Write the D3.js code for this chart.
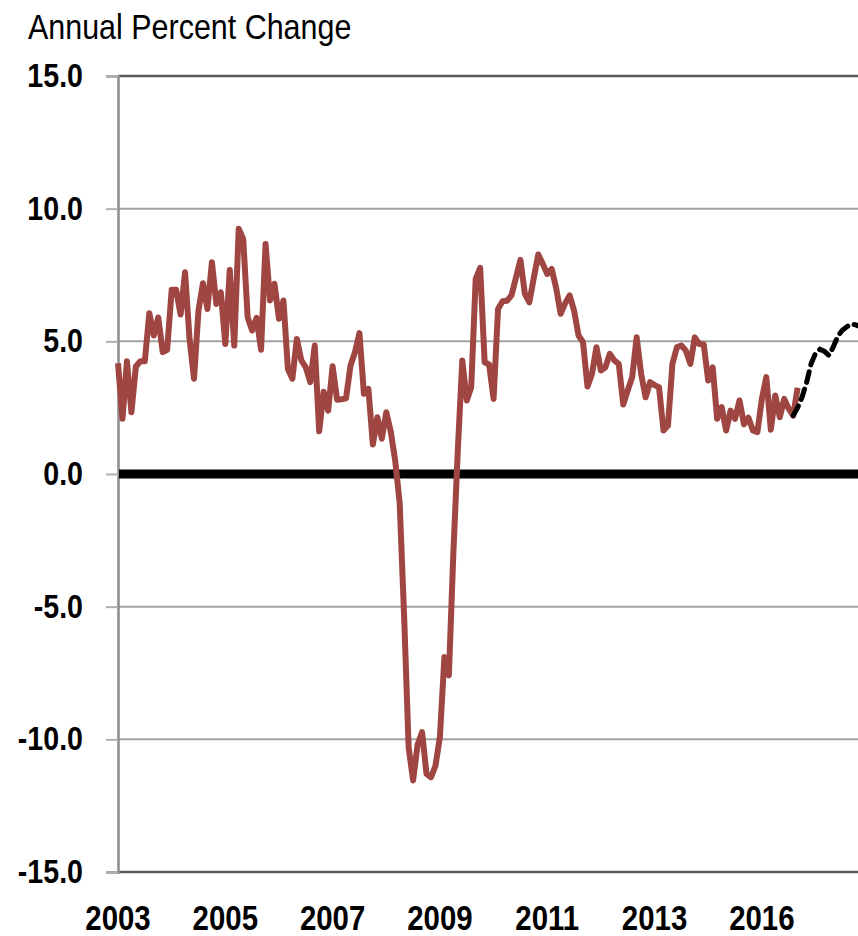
<!DOCTYPE html>
<html>
<head>
<meta charset="utf-8">
<script src="https://cdn.jsdelivr.net/npm/d3@7"></script>
<style>
  body { margin: 0; background: #fff; }
  svg text { font-family: "Liberation Sans", Arial, sans-serif; fill: #000; }
</style>
</head>
<body>
<svg width="858" height="936"></svg>
<script>
// monthly annual percent change, from Jan 2003
var actual = [
  4.17, 2.08, 4.25, 2.33, 4.05, 4.25, 4.25, 6.06, 5.22, 5.9, 4.59, 4.68,
  6.94, 6.94, 6.01, 7.6, 5.09, 3.59, 6.16, 7.19, 6.22, 7.98, 6.41, 6.85,
  4.9, 7.69, 4.84, 9.24, 8.86, 5.91, 5.41, 5.89, 4.68, 8.67, 6.54, 7.17,
  5.85, 6.54, 3.96, 3.59, 5.09, 4.28, 4.02, 3.46, 4.84, 1.61, 3.1, 2.39,
  4.06, 2.8, 2.82, 2.85, 4.09, 4.59, 5.31, 3.02, 3.21, 1.11, 2.14, 1.33,
  2.33, 1.6, 0.5, -1.1, -5.4, -10.3, -11.55, -10.2, -9.73, -11.3, -11.43, -11.0,
  -9.9, -6.9, -7.59, -3.0, 0.9, 4.28, 2.77, 3.27, 7.35, 7.77, 4.21, 4.13,
  2.83, 6.22, 6.51, 6.53, 6.73, 7.4, 8.07, 6.79, 6.47, 7.4, 8.27, 7.92,
  7.54, 7.73, 7.0, 6.04, 6.43, 6.73, 6.16, 5.22, 4.97, 3.3, 3.77, 4.78,
  3.9, 4.02, 4.53, 4.28, 4.15, 2.62, 3.15, 3.65, 5.15, 3.77, 2.89, 3.46,
  3.35, 3.27, 1.64, 1.83, 4.15, 4.78, 4.84, 4.65, 4.15, 5.15, 4.9, 4.88,
  3.52, 4.02, 2.08, 2.52, 1.64, 2.39, 2.08, 2.77, 1.87, 2.12, 1.64, 1.58,
  2.83, 3.65, 1.67, 2.96, 2.14, 2.83, 2.46, 2.2, 3.25
];
// forecast, starting at month 151
var forecastStart = 151;
var forecast = [2.2, 2.5, 2.9, 3.45, 4.15, 4.55, 4.7, 4.62, 4.47, 4.8, 5.2, 5.42, 5.55, 5.66, 5.62, 5.55];

var yTicks = [-15, -10, -5, 0, 5, 10, 15];
var yearLabels = ["2003", "2005", "2007", "2009", "2011", "2013", "2016"];
var labelEvery = 24;

var svg = d3.select("svg"),
  width = +svg.attr("width"),
  plotLeft = 118, plotTop = 76, plotBottom = 872;

var x = d3.scaleLinear().domain([0, 165.5]).range([plotLeft, width]);
var y = d3.scaleLinear().domain([-15, 15]).range([plotBottom, plotTop]);

// squeeze text so it looks like a narrow face
function condense(sel, k) {
  sel.each(function() {
    var w = this.getComputedTextLength();
    d3.select(this).attr("textLength", w * k).attr("lengthAdjust", "spacingAndGlyphs");
  });
}

// gridlines
svg.append("g").selectAll("line")
  .data(yTicks.filter(function(d) { return d !== 0; }))
  .enter().append("line")
  .attr("x1", plotLeft).attr("x2", width)
  .attr("y1", function(d) { return y(d); })
  .attr("y2", function(d) { return y(d); })
  .attr("stroke", function(d) { return (d === 15 || d === -15) ? "#5a5a5a" : "#a3a3a3"; })
  .attr("stroke-width", function(d) { return (d === 15 || d === -15) ? 2.5 : 2; });

// y axis (plain hyphen for negatives, like the original)
var yAxis = svg.append("g")
  .attr("transform", "translate(" + plotLeft + ",0)")
  .call(d3.axisLeft(y).tickValues(yTicks).tickSize(12).tickPadding(23)
    .tickFormat(function(d) { return d.toFixed(1); }));
yAxis.select(".domain").attr("stroke", "#8c8c8c").attr("stroke-width", 2.5);
yAxis.selectAll(".tick line").attr("stroke", "#b0b0b0").attr("stroke-width", 2);
yAxis.selectAll(".tick text")
  .attr("font-size", 32.5).attr("font-weight", "bold")
  .style("font-family", "'Liberation Sans', Arial, sans-serif")
  .call(condense, 0.88);

// zero line
svg.append("line")
  .attr("x1", plotLeft + 1).attr("x2", width)
  .attr("y1", y(0)).attr("y2", y(0))
  .attr("stroke", "#000").attr("stroke-width", 9);

// x labels
svg.append("g").selectAll("text")
  .data(yearLabels)
  .enter().append("text")
  .attr("x", function(d, i) { return x(i * labelEvery); })
  .attr("y", 930)
  .attr("text-anchor", "middle")
  .attr("font-size", 35).attr("font-weight", "bold")
  .text(function(d) { return d; })
  .call(condense, 0.84);

var line = d3.line()
  .x(function(d) { return x(d[0]); })
  .y(function(d) { return y(d[1]); });

svg.append("path")
  .datum(actual.map(function(v, i) { return [i, v]; }))
  .attr("d", line)
  .attr("fill", "none")
  .attr("stroke", "#9f4642")
  .attr("stroke-width", 6)
  .attr("stroke-linejoin", "round");

svg.append("path")
  .datum(forecast.map(function(v, i) { return [forecastStart + i, v]; }))
  .attr("d", line)
  .attr("fill", "none")
  .attr("stroke", "#000")
  .attr("stroke-width", 5)
  .attr("stroke-dasharray", "11,7")
  .attr("stroke-linecap", "round");

// title
svg.append("text")
  .attr("x", 28).attr("y", 39)
  .attr("font-size", 35)
  .text("Annual Percent Change")
  .call(condense, 0.87);
</script>
</body>
</html>
